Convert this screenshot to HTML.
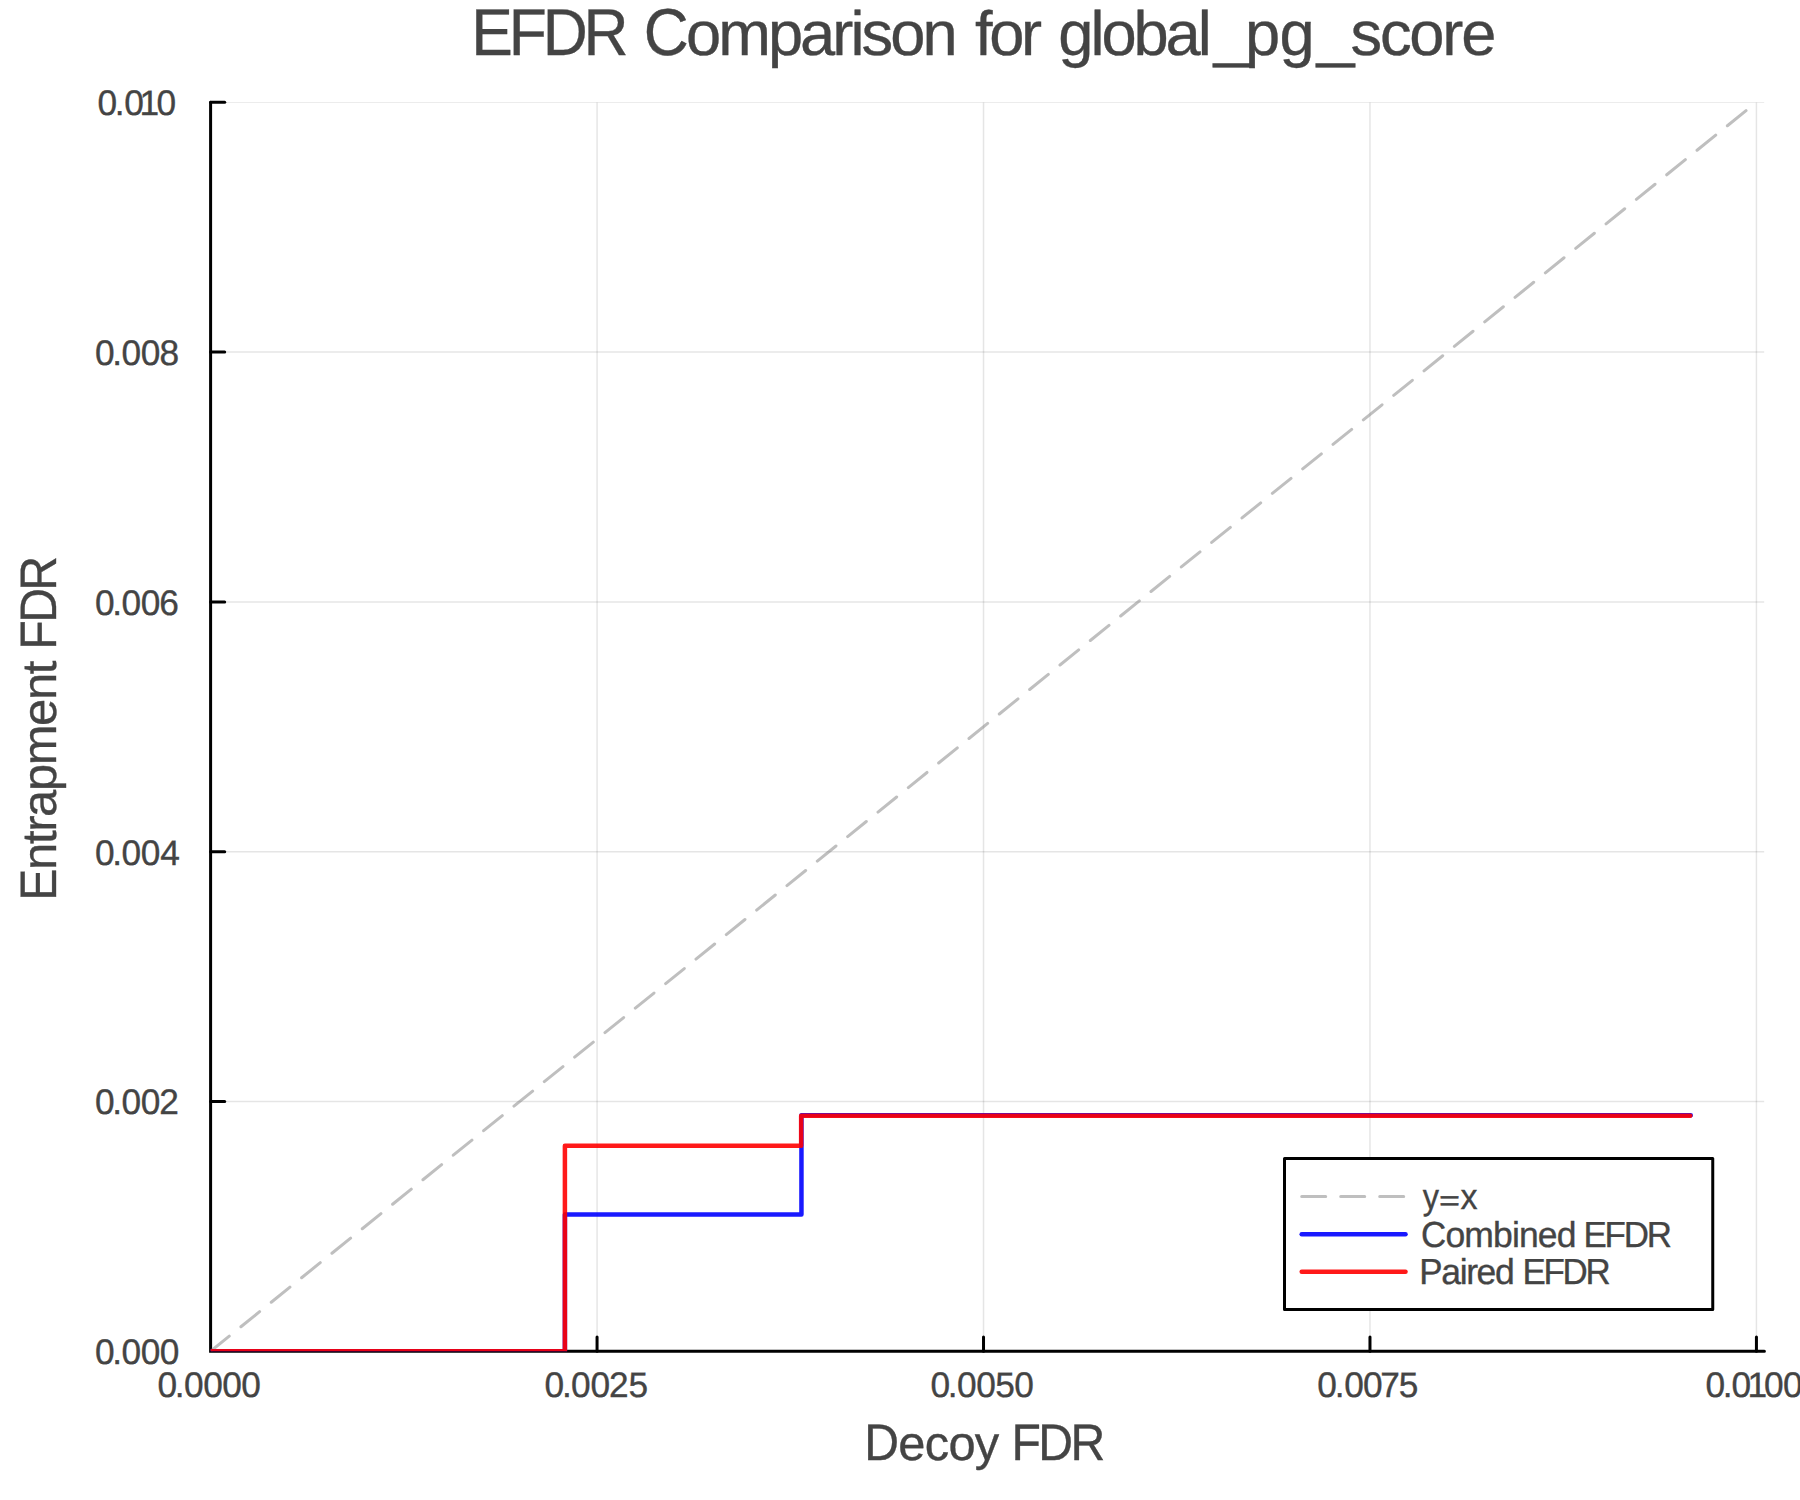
<!DOCTYPE html>
<html lang="en"><head><meta charset="utf-8"><title>EFDR Comparison for global_pg_score</title>
<style>
html,body{margin:0;padding:0;background:#fff;}
body{width:1800px;height:1500px;overflow:hidden;}
svg{display:block;}
text{font-family:"Liberation Sans",sans-serif;fill:#444444;font-kerning:none;white-space:pre;text-rendering:geometricPrecision;stroke:#444444;stroke-width:0.35px;}
</style></head><body>
<svg width="1800" height="1500" viewBox="0 0 1800 1500">
<rect width="1800" height="1500" fill="#ffffff"/>

<clipPath id="pc"><rect x="210.60" y="102.30" width="1553.80" height="1248.98"/></clipPath>
<g stroke="#000" stroke-opacity="0.1" stroke-width="1.5" fill="none" clip-path="url(#pc)">
<line x1="597.06" y1="102.30" x2="597.06" y2="1351.28"/>
<line x1="983.52" y1="102.30" x2="983.52" y2="1351.28"/>
<line x1="1369.97" y1="102.30" x2="1369.97" y2="1351.28"/>
<line x1="1756.43" y1="102.30" x2="1756.43" y2="1351.28"/>
<line x1="210.60" y1="1101.48" x2="1764.40" y2="1101.48"/>
<line x1="210.60" y1="851.69" x2="1764.40" y2="851.69"/>
<line x1="210.60" y1="601.89" x2="1764.40" y2="601.89"/>
<line x1="210.60" y1="352.10" x2="1764.40" y2="352.10"/>
<line x1="210.60" y1="102.30" x2="1764.40" y2="102.30"/>
</g>
<g stroke="#000" stroke-width="3" fill="none" stroke-linecap="round">
<path d="M210.60 102.30 V1351.28 H1764.40"/>
<line x1="597.06" y1="1351.28" x2="597.06" y2="1336.98"/>
<line x1="983.52" y1="1351.28" x2="983.52" y2="1336.98"/>
<line x1="1369.97" y1="1351.28" x2="1369.97" y2="1336.98"/>
<line x1="1756.43" y1="1351.28" x2="1756.43" y2="1336.98"/>
<line x1="210.60" y1="1101.48" x2="224.70" y2="1101.48"/>
<line x1="210.60" y1="851.69" x2="224.70" y2="851.69"/>
<line x1="210.60" y1="601.89" x2="224.70" y2="601.89"/>
<line x1="210.60" y1="352.10" x2="224.70" y2="352.10"/>
<line x1="210.60" y1="102.30" x2="224.70" y2="102.30"/>
</g>
<g clip-path="url(#pc)">
<line x1="210.60" y1="1351.28" x2="1756.43" y2="102.30" stroke="#808080" stroke-opacity="0.5" stroke-width="3" stroke-dasharray="24 15" stroke-linecap="round"/>
<path d="M210.60 1351.28 H564.90 V1214.45 H801.45 V1115.30 H1690.75" fill="none" stroke="#0000ff" stroke-opacity="0.9" stroke-width="4.5" stroke-linejoin="round" stroke-linecap="round"/>
<path d="M210.60 1351.28 H564.90 V1145.85 H801.15 V1115.70 H1690.30" fill="none" stroke="#ff0000" stroke-opacity="0.9" stroke-width="4.5" stroke-linejoin="round" stroke-linecap="round"/>
</g>
<rect x="1284.5" y="1158.6" width="428.25" height="150.9" fill="#ffffff" stroke="#000" stroke-width="3" stroke-linejoin="round"/>
<line x1="1301.7" y1="1196.4" x2="1406" y2="1196.4" stroke="#808080" stroke-opacity="0.5" stroke-width="3" stroke-dasharray="24 15" stroke-linecap="round"/>
<line x1="1301.7" y1="1234.2" x2="1405.5" y2="1234.2" stroke="#0000ff" stroke-opacity="0.9" stroke-width="4.5" stroke-linecap="round"/>
<line x1="1301.7" y1="1271.8" x2="1405.5" y2="1271.8" stroke="#ff0000" stroke-opacity="0.9" stroke-width="4.5" stroke-linecap="round"/>
<text y="1208.70"><tspan x="1422.72" font-size="35.90" textLength="16.24" lengthAdjust="spacingAndGlyphs">y</tspan><tspan x="1438.94" font-size="28.00" textLength="21.04" lengthAdjust="spacingAndGlyphs" dy="1.20">=</tspan><tspan x="1460.42" font-size="35.90" textLength="17.05" lengthAdjust="spacingAndGlyphs" dy="-1.20">x</tspan></text>
<text y="1246.70"><tspan x="1421.03" font-size="36.20" textLength="24.36" lengthAdjust="spacingAndGlyphs" letter-spacing="-0.902">C</tspan><tspan x="1445.38" font-size="35.90" textLength="130.24" lengthAdjust="spacingAndGlyphs" letter-spacing="-0.880">ombined</tspan> <tspan x="1583.43" font-size="36.20" textLength="86.55" lengthAdjust="spacingAndGlyphs" letter-spacing="-2.213">EFDR</tspan></text>
<text y="1283.70"><tspan x="1419.33" font-size="36.20" textLength="21.93" lengthAdjust="spacingAndGlyphs" letter-spacing="-1.425">P</tspan><tspan x="1441.26" font-size="35.90" textLength="72.16" lengthAdjust="spacingAndGlyphs" letter-spacing="-1.389">aired</tspan> <tspan x="1522.43" font-size="36.20" textLength="86.15" lengthAdjust="spacingAndGlyphs" letter-spacing="-2.317">EFDR</tspan></text>
<g transform="translate(0 1364.18) scale(0.9966 1)"><text font-size="35.40" x="95.25 112.66 121.84 141.30 160.27">0.000</text></g>
<g transform="translate(0 1114.38) scale(0.9966 1)"><text font-size="35.40" x="95.25 112.66 121.84 141.30 159.87">0.002</text></g>
<g transform="translate(0 864.59) scale(0.9966 1)"><text font-size="35.40" x="95.25 112.66 121.84 141.30 160.84">0.004</text></g>
<g transform="translate(0 614.79) scale(0.9966 1)"><text font-size="35.40" x="95.25 112.66 121.84 141.30 159.85">0.006</text></g>
<g transform="translate(0 365.00) scale(0.9966 1)"><text font-size="35.40" x="95.25 112.66 121.84 141.30 160.11">0.008</text></g>
<g transform="translate(0 115.20) scale(0.9966 1)"><text font-size="35.40" x="97.75 115.17 124.65 140.09 156.96">0.010</text></g>
<g transform="translate(0 1396.70) scale(0.9966 1)"><text font-size="35.40" x="157.96 175.37 184.55 204.02 222.98 242.15">0.0000</text></g>
<g transform="translate(0 1396.70) scale(0.9966 1)"><text font-size="35.40" x="546.48 563.90 573.07 592.54 611.10 630.63">0.0025</text></g>
<g transform="translate(0 1396.70) scale(0.9966 1)"><text font-size="35.40" x="933.60 951.01 960.19 979.65 998.58 1017.78">0.0050</text></g>
<g transform="translate(0 1396.70) scale(0.9966 1)"><text font-size="35.40" x="1321.72 1339.33 1348.81 1367.77 1384.90 1403.56">0.0075</text></g>
<g transform="translate(0 1396.70) scale(0.9966 1)"><text font-size="35.40" x="1711.24 1728.66 1737.43 1753.57 1769.94 1789.10">0.0100</text></g>
<text y="54.90"><tspan x="471.19" font-size="66.30" textLength="153.32" lengthAdjust="spacingAndGlyphs" letter-spacing="-4.343">EFDR</tspan> <tspan x="643.84" font-size="66.30" textLength="42.07" lengthAdjust="spacingAndGlyphs" letter-spacing="-3.126">C</tspan><tspan x="685.90" font-size="62.50" textLength="268.87" lengthAdjust="spacingAndGlyphs" letter-spacing="-2.904">omparison</tspan> <tspan x="975.10" font-size="62.50" textLength="63.51" lengthAdjust="spacingAndGlyphs" letter-spacing="-3.393">for</tspan> <tspan x="1058.34" font-size="62.50" textLength="150.30" lengthAdjust="spacingAndGlyphs" letter-spacing="-3.048">global</tspan><tspan x="1213.70" font-size="62.50" textLength="36.85" lengthAdjust="spacingAndGlyphs">_</tspan><tspan x="1245.02" font-size="62.50" textLength="35.18" lengthAdjust="spacingAndGlyphs">p</tspan><tspan x="1279.54" font-size="62.50" textLength="35.18" lengthAdjust="spacingAndGlyphs">g</tspan><tspan x="1316.73" font-size="62.50" textLength="37.71" lengthAdjust="spacingAndGlyphs">_</tspan><tspan x="1350.44" font-size="62.50" textLength="143.80" lengthAdjust="spacingAndGlyphs" letter-spacing="-2.148">score</tspan></text>
<text y="1459.50"><tspan x="864.35" font-size="51.20" textLength="33.99" lengthAdjust="spacingAndGlyphs" letter-spacing="-0.814">D</tspan><tspan x="898.34" font-size="48.30" textLength="100.19" lengthAdjust="spacingAndGlyphs" letter-spacing="-0.756">ecoy</tspan> <tspan x="1011.45" font-size="51.20" textLength="91.22" lengthAdjust="spacingAndGlyphs" letter-spacing="-2.729">FDR</tspan></text>
<text y="0.00" transform="translate(56.0 0) rotate(-90)"><tspan x="-900.65" font-size="51.20" textLength="30.75" lengthAdjust="spacingAndGlyphs" letter-spacing="-1.439">E</tspan><tspan x="-869.90" font-size="48.30" textLength="207.91" lengthAdjust="spacingAndGlyphs" letter-spacing="-1.336">ntrapment</tspan> <tspan x="-649.75" font-size="51.20" textLength="91.36" lengthAdjust="spacingAndGlyphs" letter-spacing="-2.676">FDR</tspan></text>
</svg></body></html>
